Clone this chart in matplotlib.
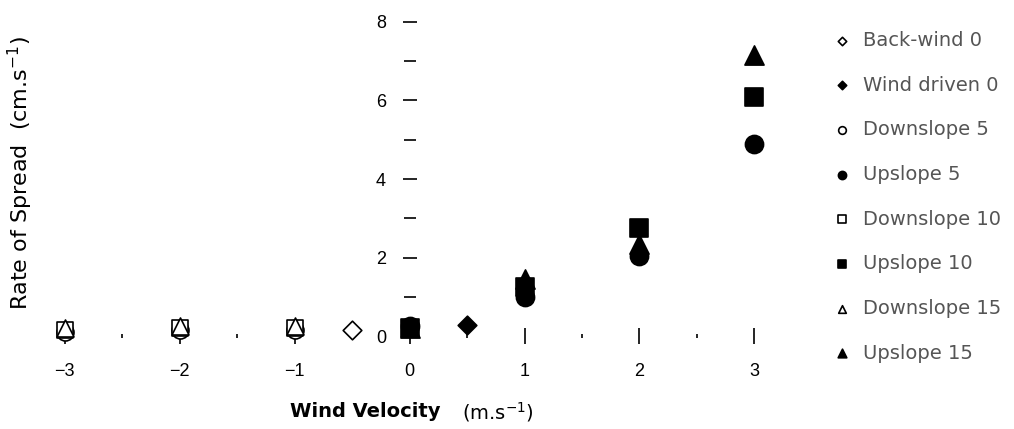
import matplotlib.pyplot as plt
from matplotlib.ticker import MultipleLocator

plt.rcParams['font.family'] = ['DejaVu Sans']

# data
bw0_x, bw0_y = [-0.5], [0.15]
wd0_x, wd0_y = [0.5], [0.28]
down5_x, down5_y = [-3, -2, -1], [0.1, 0.15, 0.15]
up5_x, up5_y = [0, 1, 2, 3], [0.25, 1.0, 2.05, 4.9]
down10_x, down10_y = [-3, -2, -1], [0.15, 0.2, 0.2]
up10_x, up10_y = [0, 1, 2, 3], [0.2, 1.25, 2.75, 6.1]
down15_x, down15_y = [-3, -2, -1], [0.2, 0.25, 0.25]
up15_x, up15_y = [0, 1, 2, 3], [0.2, 1.45, 2.35, 7.15]

x_ticks = [-3, -2, -1, 0, 1, 2, 3]
y_ticks = [0, 2, 4, 6, 8]

fig = plt.figure(figsize=(10.14, 4.29), dpi=100)
ax = fig.add_axes([0.0296, 0.1888, 0.7485, 0.7786])

series = [
    (bw0_x, bw0_y, 'D', 'white', 'Back-wind 0', 90),
    (wd0_x, wd0_y, 'D', 'black', 'Wind driven 0', 90),
    (down5_x, down5_y, 'o', 'white', 'Downslope 5', 150),
    (up5_x, up5_y, 'o', 'black', 'Upslope 5', 170),
    (down10_x, down10_y, 's', 'white', 'Downslope 10', 130),
    (up10_x, up10_y, 's', 'black', 'Upslope 10', 170),
    (down15_x, down15_y, '^', 'white', 'Downslope 15', 150),
    (up15_x, up15_y, '^', 'black', 'Upslope 15', 190),
]
for xs, ys, m, fc, lab, s in series:
    ax.scatter(xs, ys, marker=m, s=s, facecolors=fc, edgecolors='black',
               linewidths=1.2, label=lab, zorder=3)

ax.set_xlim(-3.3, 3.3)
ax.set_ylim(-0.3, 8.2)
for side in ['top', 'right', 'left', 'bottom']:
    ax.spines[side].set_visible(False)
ax.spines['left'].set_position(('data', 0))
ax.spines['bottom'].set_position(('data', 0))

ax.set_xticks(x_ticks)
ax.set_yticks(y_ticks)
ax.xaxis.set_minor_locator(MultipleLocator(0.5))
ax.yaxis.set_minor_locator(MultipleLocator(1))
ax.tick_params(axis='x', which='major', direction='inout', length=12, width=1.2,
               pad=13)
ax.tick_params(axis='x', which='minor', direction='inout', length=3, width=1.2)
ax.tick_params(axis='y', which='major', direction='inout', length=10, width=1.2,
               pad=12)
ax.tick_params(axis='y', which='minor', direction='inout', length=8.5, width=1.2)
for lab in ax.get_xticklabels() + ax.get_yticklabels():
    lab.set_fontfamily('Liberation Sans')
    lab.set_fontsize(13)

fig.text(0.02, 0.597, 'Rate of Spread  (cm.s$^{-1}$)', rotation=90,
         ha='center', va='center', fontsize=16)
fig.text(0.286, 0.04, 'Wind Velocity', fontsize=14, fontweight='bold',
         ha='left', va='center')
fig.text(0.456, 0.04, '(m.s$^{-1}$)', fontsize=14, ha='left', va='center')

fig.legend(loc='upper left', bbox_to_anchor=(0.8207, 0.928), frameon=False,
           markerscale=0.45, fontsize=14, labelspacing=1.32, handlelength=1.0,
           handletextpad=0.6, borderpad=0, borderaxespad=0,
           labelcolor='#555555')

fig.savefig('out.png', dpi=100)
